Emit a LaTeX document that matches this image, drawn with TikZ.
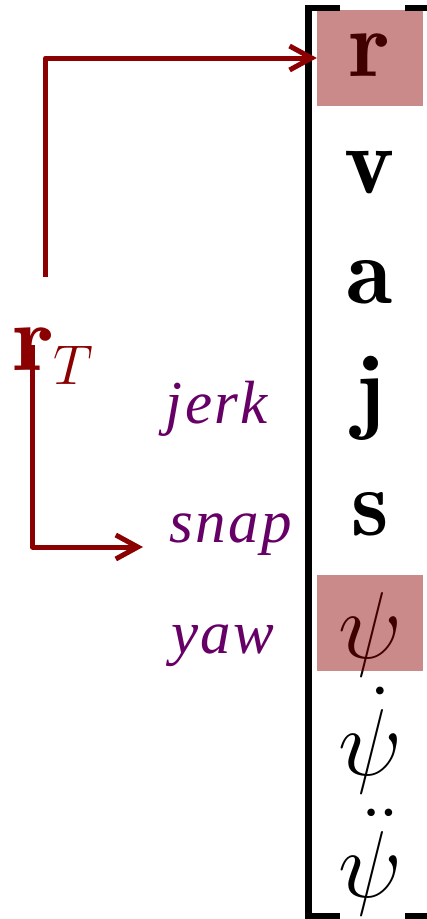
\RequirePackage{fix-cm}
\documentclass[tikz,border=0pt]{standalone}
\usepackage{fontspec}
\usepackage{amsmath}
\usetikzlibrary{arrows.meta}
\newfontfamily\labelfont[LetterSpace=4]{Liberation Serif}
\definecolor{deepred}{RGB}{139,0,0}
\definecolor{labelpurple}{RGB}{102,0,102}
\DeclareMathSizes{95}{95}{56}{45}

\begin{document}
\begin{tikzpicture}[x=1pt,y=-1pt,inner sep=0pt,
  entry/.style={anchor=base,font=\fontsize{95}{100}\selectfont},
  tag/.style={anchor=base,text=labelpurple,font=\labelfont\itshape\fontsize{61}{70}\selectfont},
  hibox/.style={fill=deepred,fill opacity=0.46,minimum width=106pt,minimum height=96pt},
  link/.style={draw=deepred,line width=5pt,line join=round,-{Straight Barb[length=22pt,width=24pt]}},
  brace/.style={line width=6.5pt}]
\useasboundingbox (0,0) rectangle (427,919);

% the state vector
\node[entry] (vr) at (370, 76) {$\mathbf{r}$};
\node[entry] (vv) at (370, 193) {$\mathbf{v}$};
\node[entry] (va) at (370, 303) {$\mathbf{a}$};
\node[entry] (vj) at (370, 421) {$\mathbf{j}$};
\node[entry] (vs) at (370, 535) {$\mathbf{s}$};
\node[entry] (vpsi) at (370, 658) {$\psi$};
\node[entry] (vdpsi) at (370, 775) {$\dot{\psi}$};
\node[entry] (vddpsi) at (370, 897) {$\ddot{\psi}$};

\node[hibox] (hr) at (370, 58) {};
\node[hibox] (hpsi) at (370, 623) {};

\draw[brace] (340, 8) -- (308.5, 8) -- (308.5, 916) -- (340, 916);
\draw[brace] (405, 8) -- (427, 8);
\draw[brace] (405, 916) -- (427, 916);

% names of the derivatives
\node[tag] (jerk) at (217, 423) {jerk};
\node[tag] (snap) at (231, 542) {snap};
\node[tag] (yaw) at (223, 653) {yaw};

% target
\node[anchor=base west,text=deepred,font=\fontsize{95}{100}\selectfont] (rT) at (13, 370) {$\mathbf{r}_T$};
\coordinate (rThead) at (45.5, 277);
\coordinate (rTfoot) at (32.5, 345);
\coordinate (snaptip) at (143, 547);

\draw[link] (rThead) |- (hr.west);
\draw[link] (rTfoot) |- (snaptip);
\end{tikzpicture}
\end{document}
